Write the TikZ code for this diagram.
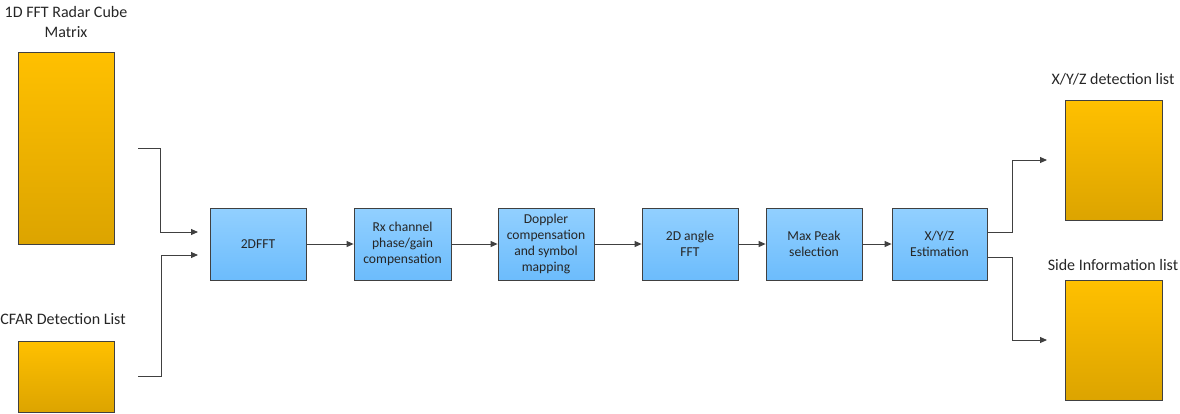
\documentclass[tikz,border=0pt]{standalone}
\usepackage{fontspec}
\setmainfont{Carlito}
\usetikzlibrary{arrows.meta}
\definecolor{edgec}{HTML}{404040}
\definecolor{txtc}{HTML}{262626}
\definecolor{orgtop}{HTML}{FFC000}
\definecolor{orgbot}{HTML}{DCA400}
\definecolor{bluetop}{HTML}{92D0FF}
\definecolor{bluebot}{HTML}{6CBCFC}
\tikzset{
  datablock/.style={draw=edgec, line width=0.8pt, top color=orgtop, bottom color=orgbot, anchor=north west, inner sep=0pt},
  procblock/.style={draw=edgec, line width=0.8pt, top color=bluetop, bottom color=bluebot, minimum width=96pt, minimum height=72pt, inner sep=1pt, align=center, font=\fontsize{13.6}{16}\selectfont, text=txtc},
  caption/.style={font=\fontsize{16}{20}\selectfont, text=txtc, align=center},
  flow/.style={draw=edgec, line width=0.9pt, -{Triangle[length=7pt,width=6pt]}},
}
\begin{document}
\begin{tikzpicture}[x=1pt,y=-1pt]
\useasboundingbox (0,0) rectangle (1180,413);
% data blocks
\node[datablock, minimum width=96pt, minimum height=192pt] (cube) at (18,52) {};
\node[datablock, minimum width=96pt, minimum height=71pt] (cfar) at (18,341) {};
\node[datablock, minimum width=97pt, minimum height=120pt] (xyz) at (1065,100) {};
\node[datablock, minimum width=97pt, minimum height=120pt] (side) at (1065,280) {};
% captions
\node[caption] (capcube) at (66,22) {1D FFT Radar Cube\\Matrix};
\node[caption] (capcfar) at (63,319) {CFAR Detection List};
\node[caption] (capxyz) at (1113,79) {X/Y/Z detection list};
\node[caption] (capside) at (1113,265) {Side Information list};
% processing blocks
\node[procblock] (fft) at (258,244) {2DFFT};
\node[procblock, minimum width=97pt] (rx) at (402.5,244) {Rx channel\\phase/gain\\compensation};
\node[procblock] (dop) at (546,244) {Doppler\\compensation\\and symbol\\mapping};
\node[procblock] (ang) at (690,244) {2D angle\\FFT};
\node[procblock] (peak) at (814,244) {Max Peak\\selection};
\node[procblock, minimum width=95pt] (est) at (939.5,244) {X/Y/Z\\Estimation};
% input connectors
\coordinate (c1s) at (138,148);
\coordinate (c1e) at (198,232);
\coordinate (c2s) at (138,376);
\coordinate (c2e) at (198,255);
\draw[flow] (c1s) -- (160,148) |- (c1e);
\draw[flow] (c2s) -- (161,376) |- (c2e);
% chain
\draw[flow] (fft) -- (rx);
\draw[flow] (rx) -- (dop);
\draw[flow] (dop) -- (ang);
\draw[flow] (ang) -- (peak);
\draw[flow] (peak) -- (est);
% outputs
\coordinate (o1e) at (1047,160);
\coordinate (o2e) at (1047,340);
\draw[flow] (est.east |- 0,232) -- (1012,232) |- (o1e);
\draw[flow] (est.east |- 0,257) -- (1012,257) |- (o2e);
\end{tikzpicture}
\end{document}
